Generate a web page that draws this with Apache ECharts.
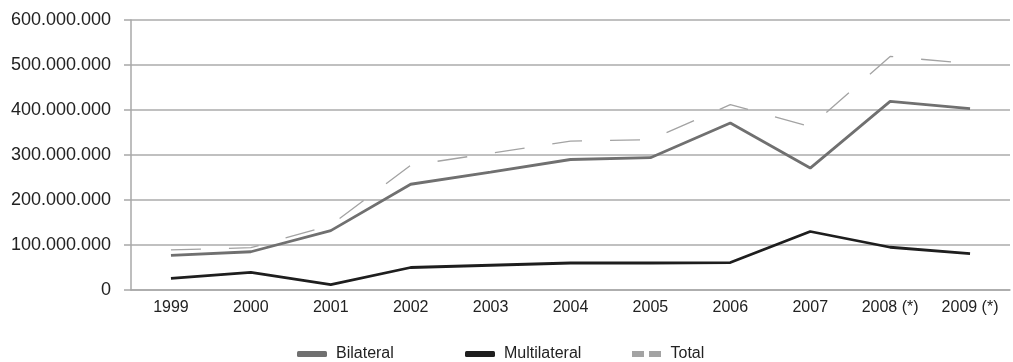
<!DOCTYPE html>
<html><head><meta charset="utf-8">
<script src="https://cdn.jsdelivr.net/npm/echarts@6/dist/echarts.min.js"></script>
<style>html,body{margin:0;padding:0;background:#fff}#c{width:1013px;height:362px}</style>
</head><body><div id="c"></div>
<script>
const categories = ['1999','2000','2001','2002','2003','2004','2005','2006','2007','2008 (*)','2009 (*)'];
const bilateral = [77e6, 85e6, 132e6, 235e6, 262e6, 290e6, 294e6, 371e6, 271e6, 419e6, 403e6];
const multilateral = [26e6, 39e6, 12e6, 50e6, 55e6, 60e6, 60e6, 61e6, 130e6, 95e6, 81e6];
const total = [89e6, 94e6, 144e6, 277e6, 304e6, 331e6, 334e6, 412e6, 363e6, 519e6, 503e6];
const yTicks = [0, 100e6, 200e6, 300e6, 400e6, 500e6, 600e6];

function fmt(v){ if(v===0) return '0'; return String(Math.round(v)).replace(/\B(?=(\d{3})+(?!\d))/g,'.'); }
const font = 'Liberation Sans, Arial, sans-serif';
const chart = echarts.init(document.getElementById('c'), null, {renderer:'canvas'});
function leg(name, left, icon){
  return {data:[{name:name, icon:icon}], left:left, top:341, itemWidth:30, itemHeight:6, itemGap:0,
    textStyle:{fontFamily:font, fontSize:16, color:'#222', padding:[0,0,0,4]}, selectedMode:false};
}
chart.setOption({
  animation:false,
  grid:{left:131, right:3, top:20, bottom:72},
  legend:[
    leg('Bilateral', 292, 'roundRect'),
    leg('Multilateral', 460, 'roundRect'),
    leg('Total', 627, 'path://M0,0h12v6h-12z M17,0h12v6h-12z')
  ],
  xAxis:{type:'category', data:categories, boundaryGap:true,
    axisLine:{lineStyle:{color:'#a8a8a8', width:1.5}}, axisTick:{show:false},
    axisLabel:{fontFamily:font, fontSize:16, color:'#222', margin:10}},
  yAxis:{type:'value', min:0, max:600e6, interval:100e6,
    axisLine:{show:true, lineStyle:{color:'#a8a8a8', width:1.5}},
    axisTick:{show:true, length:7, lineStyle:{color:'#a8a8a8', width:1.5}},
    splitLine:{lineStyle:{color:'#ababab', width:1.5}},
    axisLabel:{fontFamily:font, fontSize:18, color:'#222', margin:20, formatter:fmt}},
  series:[
    {name:'Bilateral', type:'line', data:bilateral, symbol:'none', color:'#707070', lineStyle:{color:'#707070', width:2.8}},
    {name:'Multilateral', type:'line', data:multilateral, symbol:'none', color:'#1e1e1e', lineStyle:{color:'#1e1e1e', width:2.8}},
    {name:'Total', type:'line', data:total, symbol:'none', color:'#a3a3a3', lineStyle:{color:'#a3a3a3', width:1.3, type:[30,28]}}
  ]
});
</script></body></html>
